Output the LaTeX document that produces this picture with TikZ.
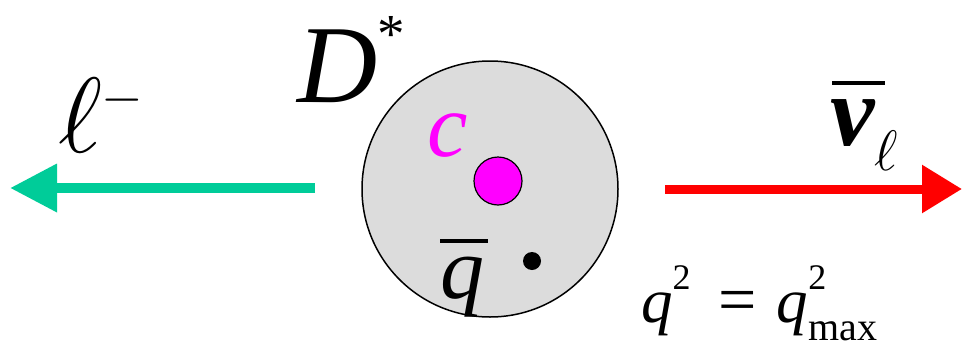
\RequirePackage{fix-cm}
\documentclass[tikz,border=0pt]{standalone}
\usepackage{fontspec}
\setmainfont{Liberation Serif}
\usepackage{tikz}
\usetikzlibrary{arrows.meta}

\definecolor{leptongreen}{RGB}{0,204,153}
\definecolor{quarkmagenta}{RGB}{255,0,255}
\definecolor{mesongray}{RGB}{220,220,220}

\newcommand{\fsz}[1]{\fontsize{#1}{#1}\selectfont}
\newcommand{\topbar}[3]{\rlap{\hspace{#1}\raisebox{#2}{\rule{#3}{4pt}}}}

\begin{document}
\begin{tikzpicture}[x=1pt,y=-1pt]

% --- STYLES ---
\tikzset{
  meson/.style={circle, draw=black, fill=mesongray, line width=1.5pt,
                minimum size=256pt, inner sep=0pt},
  cquark/.style={circle, draw=black, fill=quarkmagenta, line width=1.2pt,
                 minimum size=48pt, inner sep=0pt},
  antiquark/.style={circle, fill=black, minimum size=18pt, inner sep=0pt},
  txt/.style={inner sep=0pt, outer sep=0pt, anchor=base west},
  lepton/.style={leptongreen, line width=10pt,
                 -{Triangle[length=47pt, width=46pt]}},
  neutrino/.style={red, line width=9pt,
                   -{Triangle[length=40pt, width=46pt]}},
}

\useasboundingbox (0,0) rectangle (962,346);

% ================= MESON =================
\node[meson]     (meson) at (490,189) {};
\node[cquark]    (c)     at (498,181) {};
\node[antiquark] (qbar)  at (532,261) {};

% ================= LABELS =================
\node[txt] (Dstar) at (297,102) {\fsz{111}\textit{D}\raisebox{50pt}{\fsz{55}*}};
\node[txt, text=quarkmagenta] (clabel) at (427,156) {\fsz{91}\textit{c}};
\node[txt] (qbarlabel) at (440,298) {\fsz{88}\topbar{0pt}{55pt}{48pt}\textit{q}};
\node[txt] (ell) at (58,152) {\fsz{107}$\ell^{\scriptscriptstyle -}$};
\node[txt] (nubar) at (830,145)
      {\fsz{100}\topbar{2pt}{60pt}{53pt}\textbf{\textit{ν}}\hspace{-1pt}\raisebox{-25pt}{\fsz{57}$\ell$}};
\node[txt] (qsq) at (641,322)
      {\fsz{63}\textit{q}\raisebox{33pt}{\fsz{36}2}\hspace{28pt}{\fsz{68}=}\hspace{20pt}\textit{q}\rlap{\raisebox{33pt}{\fsz{36}2}}\raisebox{-18pt}{\fsz{40}max}};

% ================= DECAY PRODUCTS =================
\coordinate (ltail) at (315,188);
\coordinate (lhead) at (10,188);
\draw[lepton] (ltail) -- (lhead);

\coordinate (ntail) at (665,189);
\coordinate (nhead) at (962,189);
\draw[neutrino] (ntail) -- (nhead);

\end{tikzpicture}
\end{document}
